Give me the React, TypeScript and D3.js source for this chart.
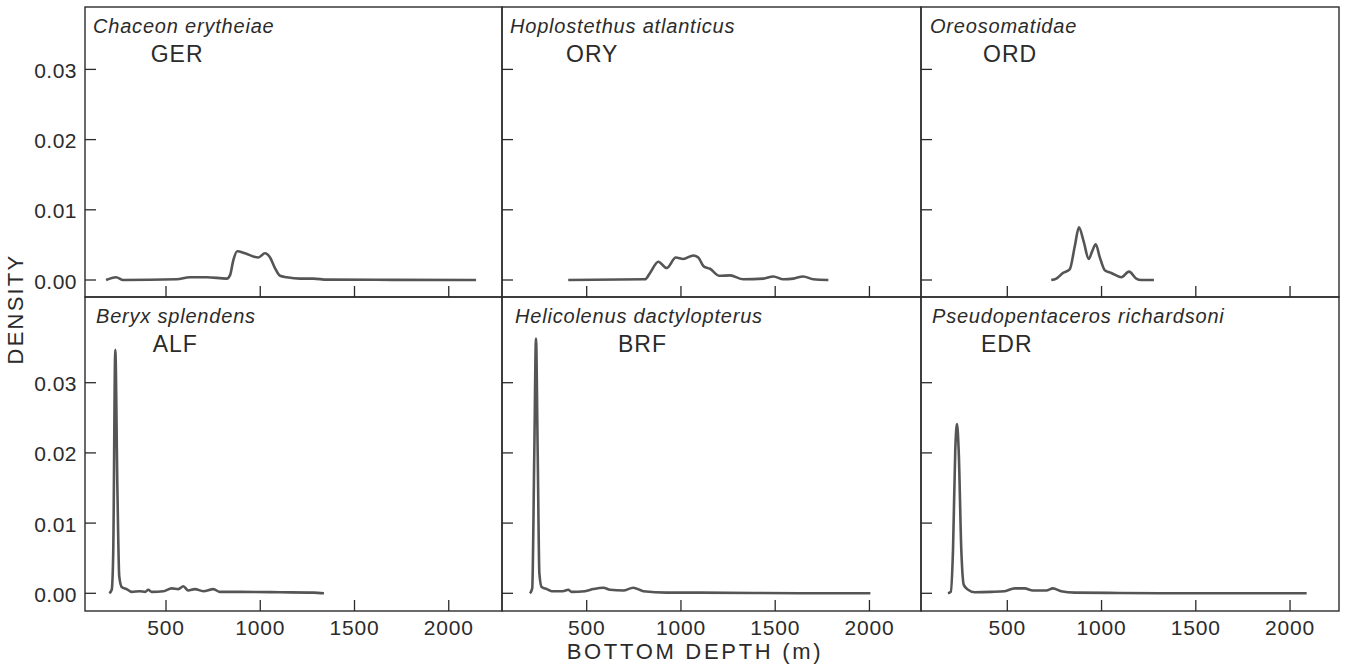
import React from 'react'
import * as d3 from 'd3'

// species names and FAO codes, in panel order (left to right, top to bottom)
const species = [
  'Chaceon erytheiae',
  'Hoplostethus atlanticus',
  'Oreosomatidae',
  'Beryx splendens',
  'Helicolenus dactylopterus',
  'Pseudopentaceros richardsoni',
]
const codes = ['GER', 'ORY', 'ORD', 'ALF', 'BRF', 'EDR']

const depthTicks = [500, 1000, 1500, 2000]
const densityTicks = [0, 0.01, 0.02, 0.03]

// kernel density curves: depth (m) / density
const gerDepth = [182, 235, 273, 557, 627, 716, 822, 840, 857, 878, 919, 990, 1025, 1052, 1078, 1105, 1140, 1211, 1282, 1353, 1700, 2145]
const gerDensity = [0, 0.0004, 0, 0.0001, 0.0004, 0.0004, 0.0002, 0.0007, 0.0028, 0.0041, 0.0038, 0.0032, 0.0038, 0.0032, 0.0017, 0.0006, 0.0004, 0.0002, 0.0002, 0.00005, 0.00002, 0]

const oryDepth = [402, 809, 836, 880, 924, 973, 1012, 1066, 1092, 1122, 1154, 1204, 1260, 1331, 1437, 1490, 1543, 1596, 1649, 1702, 1782]
const oryDensity = [0, 0.0001, 0.001, 0.0026, 0.0017, 0.0032, 0.003, 0.0035, 0.0032, 0.0019, 0.0016, 0.0006, 0.00066, 0.0001, 0.0002, 0.0005, 0.0001, 0.0002, 0.0005, 0.0001, 0]

const ordDepth = [733, 760, 795, 831, 858, 880, 905, 932, 949, 969, 990, 1017, 1052, 1105, 1146, 1184, 1211, 1278]
const ordDensity = [0, 0.0002, 0.001, 0.0015, 0.0048, 0.0075, 0.0055, 0.003, 0.004, 0.0051, 0.0033, 0.0014, 0.001, 0.0004, 0.0012, 0.0002, 0, 0]

const alfDepth = [199, 212, 220, 231, 242, 252, 265, 291, 318, 362, 389, 406, 424, 486, 530, 565, 592, 618, 653, 698, 751, 786, 893, 1105, 1282, 1338]
const alfDensity = [0, 0.0005, 0.0057, 0.0347, 0.0152, 0.0024, 0.0009, 0.0006, 0.0002, 0.0003, 0.0002, 0.0005, 0.0002, 0.0003, 0.0007, 0.0006, 0.001, 0.0004, 0.0006, 0.0003, 0.0006, 0.0002, 0.0002, 0.00015, 0.0001, 0]

const brfDepth = [199, 211, 222, 231, 240, 249, 261, 288, 314, 373, 402, 420, 491, 535, 588, 624, 694, 747, 800, 924, 1101, 1631, 2005]
const brfDensity = [0, 0.0007, 0.02, 0.0363, 0.02, 0.0028, 0.0009, 0.0006, 0.0003, 0.0003, 0.0005, 0.0002, 0.0003, 0.0006, 0.0008, 0.0005, 0.0004, 0.0008, 0.0003, 0.0001, 0.0001, 0, 0]

const edrDepth = [185, 200, 212, 224, 233, 242, 256, 269, 292, 327, 415, 486, 539, 592, 636, 707, 742, 786, 858, 1087, 1600, 2088]
const edrDensity = [0, 0.0002, 0.0062, 0.0204, 0.0241, 0.0204, 0.0062, 0.0012, 0.0005, 0.00015, 0.0002, 0.0003, 0.0007, 0.0007, 0.0004, 0.0004, 0.0007, 0.0003, 0.0001, 0.00005, 0, 0]

const depths = [gerDepth, oryDepth, ordDepth, alfDepth, brfDepth, edrDepth]
const densities = [gerDensity, oryDensity, ordDensity, alfDensity, brfDensity, edrDensity]

// panel geometry
const colLeft = [85, 502, 921]
const colRight = [502, 921, 1339]
const tick500 = [166, 586.7, 1007.3]
const rowTop = [7, 297]
const rowBottom = [297, 611]
const rowZero = [280, 593.3]
const titleX = [8, 8, 9, 11, 13, 11]
const codeX = [150.7, 566, 983, 152.7, 618, 981]

const font = "'Liberation Sans', Arial, sans-serif"
const ink = '#2b2b2b'

const App: React.FunctionComponent = () => {
  const width = 1346
  const height = 668
  const tickLen = 11

  const panels = species.map((name, i) => {
    const col = i % 3
    const row = Math.floor(i / 3)
    const x = d3.scaleLinear().domain([500, 2000]).range([tick500[col], tick500[col] + 282.75])
    const y = d3.scaleLinear().domain([0, 0.03]).range([rowZero[row], rowZero[row] - 210.6])
    const line = d3
      .line<number>()
      .x(d => x(d))
      .y((_, k) => y(densities[i][k]))
      .curve(d3.curveMonotoneX)

    return (
      <g key={name}>
        <rect
          x={colLeft[col]}
          y={rowTop[row]}
          width={colRight[col] - colLeft[col]}
          height={rowBottom[row] - rowTop[row]}
          fill="none"
          stroke={ink}
          strokeWidth={1.4}
        />
        {densityTicks.map(t => (
          <line
            key={'y' + t}
            x1={colLeft[col]}
            x2={colLeft[col] + tickLen}
            y1={y(t)}
            y2={y(t)}
            stroke={ink}
            strokeWidth={1.3}
          />
        ))}
        {depthTicks.map(t => (
          <line
            key={'x' + t}
            x1={x(t)}
            x2={x(t)}
            y1={rowBottom[row]}
            y2={rowBottom[row] - tickLen}
            stroke={ink}
            strokeWidth={1.3}
          />
        ))}
        {col === 0 &&
          densityTicks.map(t => (
            <text
              key={'yl' + t}
              x={77}
              y={y(t) + 8.5}
              textAnchor="end"
              fontSize={21}
              letterSpacing={0.5}
              fill={ink}
            >
              {t.toFixed(2)}
            </text>
          ))}
        {row === 1 &&
          depthTicks.map(t => (
            <text
              key={'xl' + t}
              x={x(t)}
              y={635}
              textAnchor="middle"
              fontSize={21}
              letterSpacing={0.8}
              fill={ink}
            >
              {t}
            </text>
          ))}
        <path d={line(depths[i]) || ''} fill="none" stroke="#555" strokeWidth={2.6} strokeLinejoin="round" />
        <text
          x={colLeft[col] + titleX[i]}
          y={rowTop[row] + 26}
          fontSize={20}
          fontStyle="italic"
          letterSpacing={0.8}
          fill={ink}
        >
          {name}
        </text>
        <text x={codeX[i]} y={rowTop[row] + 55} fontSize={23} letterSpacing={1} fill={ink}>
          {codes[i]}
        </text>
      </g>
    )
  })

  return (
    <svg
      width={width}
      height={height}
      style={{ position: 'absolute', left: 0, top: 0, background: '#fff' }}
      fontFamily={font}
    >
      {panels}
      <text
        transform="translate(23,309) rotate(-90)"
        textAnchor="middle"
        fontSize={22}
        letterSpacing={2.2}
        fill={ink}
      >
        DENSITY
      </text>
      <text x={695} y={659} textAnchor="middle" fontSize={22} letterSpacing={2.7} fill={ink}>
        BOTTOM DEPTH (m)
      </text>
    </svg>
  )
}

export default App
